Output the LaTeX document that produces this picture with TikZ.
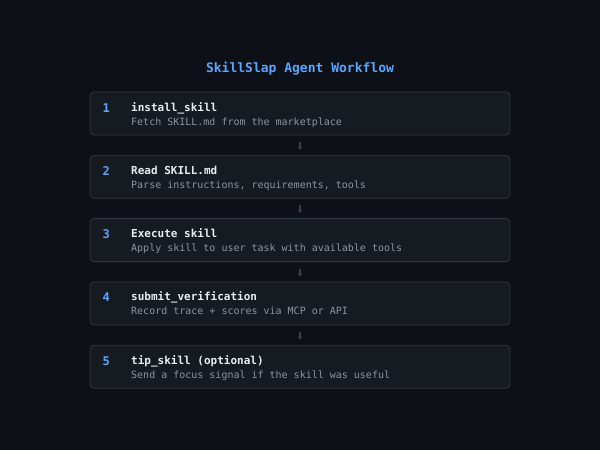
\documentclass[tikz,border=0pt]{standalone}
\usepackage{fontspec}
\setmonofont{DejaVu Sans Mono}
\usetikzlibrary{arrows.meta}
\definecolor{bg}{HTML}{0D1117}
\definecolor{boxfill}{HTML}{161B22}
\definecolor{boxline}{HTML}{30363D}
\definecolor{accent}{HTML}{58A6FF}
\definecolor{head}{HTML}{E6EDF3}
\definecolor{sub}{HTML}{8B949E}
\definecolor{arr}{HTML}{3A4049}
\tikzset{
  stepbox/.style={draw=boxline, fill=boxfill, line width=0.8pt, rounded corners=4pt,
    minimum width=420pt, minimum height=43pt, inner sep=0pt},
  titletext/.style={text=accent, font=\ttfamily\bfseries\fontsize{13}{15}\selectfont},
  numtext/.style={text=accent, font=\ttfamily\bfseries\fontsize{12}{14}\selectfont, anchor=base west, inner sep=0pt},
  headtext/.style={text=head, font=\ttfamily\bfseries\fontsize{11}{13}\selectfont, anchor=base west, inner sep=0pt},
  subtext/.style={text=sub, font=\ttfamily\fontsize{10}{12}\selectfont, anchor=base west, inner sep=0pt},
  flow/.style={draw=arr, line width=1.1pt, -{Stealth[length=3.5pt,width=4.5pt]}, shorten <=6.5pt, shorten >=5pt}
}
\begin{document}
\begin{tikzpicture}[x=1pt,y=-1pt]
\fill[bg] (0,0) rectangle (600,450);
\useasboundingbox (0,0) rectangle (600,450);
\node[titletext] (title) at (300,69) {SkillSlap Agent Workflow};
\foreach \i/\y/\h/\d in {
  1/113.5/install\_skill/Fetch SKILL.md from the marketplace,
  2/176.8/Read SKILL.md/{Parse instructions, requirements, tools},
  3/240.1/Execute skill/Apply skill to user task with available tools,
  4/303.4/submit\_verification/Record trace + scores via MCP or API,
  5/366.7/tip\_skill (optional)/Send a focus signal if the skill was useful}{
  \node[stepbox] (b\i) at (300,\y) {};
  \node[numtext] (n\i) at (102.5,\y-1.5) {\i};
  \node[headtext] (h\i) at (131,\y-2.5) {\h};
  \node[subtext] (d\i) at (131,\y+11.5) {\d};
}
\foreach \a/\b in {1/2,2/3,3/4,4/5}{
  \draw[flow] (b\a.south) -- (b\b.north);
}
\end{tikzpicture}
\end{document}
